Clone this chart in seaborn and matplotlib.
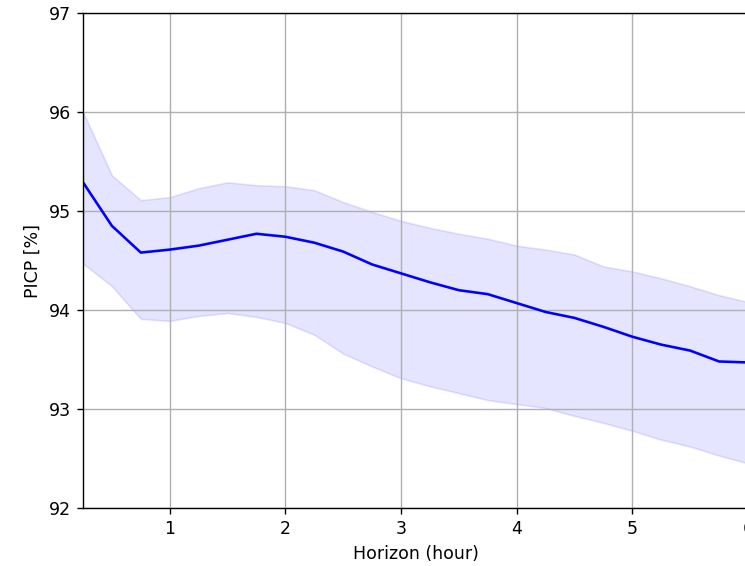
import matplotlib
matplotlib.use("Agg")
import matplotlib.pyplot as plt
import seaborn as sns
import pandas as pd

# horizon steps (hours) and PICP values
horizon = [0.25, 0.5, 0.75, 1.0, 1.25, 1.5, 1.75, 2.0, 2.25, 2.5, 2.75, 3.0,
           3.25, 3.5, 3.75, 4.0, 4.25, 4.5, 4.75, 5.0, 5.25, 5.5, 5.75, 6.0]
picp_mean = [95.29, 94.85, 94.58, 94.61, 94.65, 94.71, 94.77, 94.74, 94.68, 94.59, 94.46, 94.37,
             94.28, 94.20, 94.16, 94.07, 93.98, 93.92, 93.83, 93.73, 93.65, 93.59, 93.48, 93.47]
picp_upper = [96.00, 95.36, 95.11, 95.14, 95.23, 95.29, 95.26, 95.25, 95.21, 95.09, 94.99, 94.90,
              94.83, 94.77, 94.72, 94.65, 94.61, 94.56, 94.44, 94.39, 94.32, 94.24, 94.15, 94.08]
picp_lower = [94.47, 94.24, 93.91, 93.89, 93.94, 93.97, 93.93, 93.87, 93.75, 93.56, 93.43, 93.31,
              93.23, 93.16, 93.09, 93.05, 93.01, 92.93, 92.86, 92.78, 92.69, 92.62, 92.53, 92.45]

df = pd.DataFrame({"horizon": horizon, "picp": picp_mean,
                   "upper": picp_upper, "lower": picp_lower})

fig = plt.figure(figsize=(5.96, 4.528), dpi=125)
ax = fig.add_axes([0.1114, 0.1025, 0.8926, 0.8745])

ax.fill_between(df["horizon"], df["lower"], df["upper"], color="blue", alpha=0.1)
sns.lineplot(data=df, x="horizon", y="picp", ax=ax, color="blue", linewidth=1.5)

ax.set_xlim(0.25, 6)
ax.set_ylim(92, 97)
ax.set_xticks([1, 2, 3, 4, 5, 6])
ax.set_yticks([92, 93, 94, 95, 96, 97])
ax.grid(True)
ax.set_xlabel("Horizon (hour)")
ax.set_ylabel("PICP [%]")

fig.savefig("out.png", dpi=125)
plt.close(fig)
